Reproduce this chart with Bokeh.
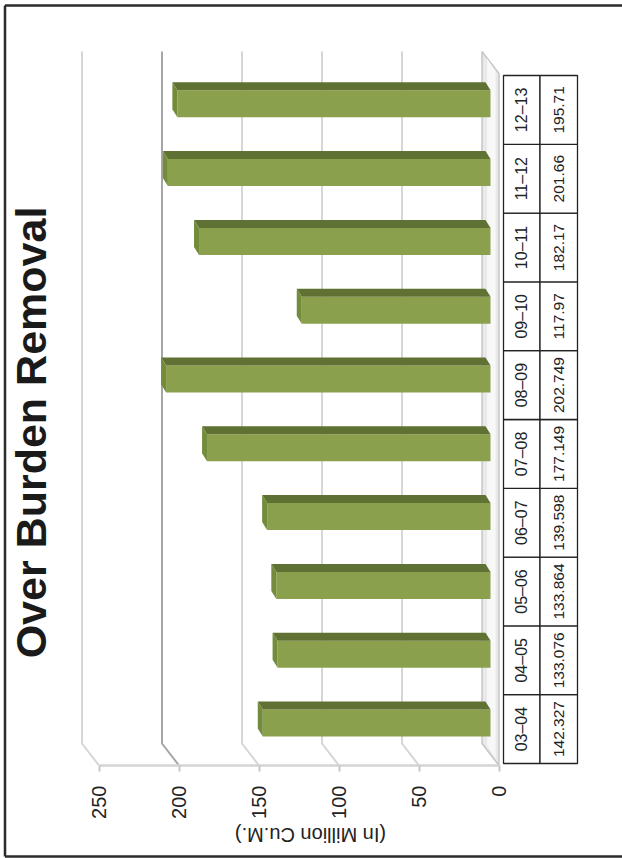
import math
from bokeh.plotting import figure
from bokeh.models import Range1d, LinearAxis, FixedTicker, Label
from bokeh.core.properties import value
from bokeh.embed import file_html
from bokeh.resources import INLINE

# ---- data ----
categories = ["03–04", "04–05", "05–06", "06–07", "07–08",
              "08–09", "09–10", "10–11", "11–12", "12–13"]
values = [142.327, 133.076, 133.864, 139.598, 177.149,
          202.749, 117.97, 182.17, 201.66, 195.71]
value_labels = ["142.327", "133.076", "133.864", "139.598", "177.149",
                "202.749", "117.97", "182.17", "201.66", "195.71"]
ticks = [0, 50, 100, 150, 200, 250]
title_text = "Over Burden Removal"
axis_title = "(In Million Cu.M.)"

# ---- geometry (styles / layout) ----
W, H = 622, 858
PX_PER_UNIT = 1.6
ZERO_PX = 490.0
ROW_PX = 68.8
ROW0_CENTER_PX = 728.6
DEPTH = 8.5 / PX_PER_UNIT
BAR_DX = 5.0 / PX_PER_UNIT
FACE_OFF = 6.1 / ROW_PX
FACE_H = 27.0 / ROW_PX
TOP_H = 8.0 / ROW_PX
TABLE_FONT = "Liberation Sans"

x_start = ZERO_PX / PX_PER_UNIT
x_end = x_start - W / PX_PER_UNIT
y_start = (ROW0_CENTER_PX - H) / ROW_PX
y_end = ROW0_CENTER_PX / ROW_PX


def ypx(py):
    return (ROW0_CENTER_PX - py) / ROW_PX


p = figure(width=W, height=H,
           x_range=Range1d(x_start, x_end), y_range=Range1d(y_start, y_end),
           output_backend="svg", toolbar_location=None, min_border=0,
           x_axis_type=None, y_axis_type=None)
p.outline_line_color = None
p.background_fill_color = "white"
p.border_fill_color = "white"
p.extra_x_ranges = {"front": Range1d(x_start + DEPTH, x_end + DEPTH),
                    "px": Range1d(0, W)}
p.extra_y_ranges = {"px": Range1d(H, 0)}

# back-wall gridlines with floor slant
g_xs, g_ys, g_col = [], [], []
for t in ticks[1:]:
    g_xs.append([t + DEPTH, t + DEPTH, t - DEPTH])
    g_ys.append([51, 743, 765])
    g_col.append("#a6a6a6" if t == 200 else "#d6d6d6")
p.multi_line(xs=g_xs, ys=g_ys, y_range_name="px", line_color=g_col, line_width=2)

# side wall (the floor of the original chart)
p.patch(x=[DEPTH, -DEPTH, -DEPTH, DEPTH], y=[51, 73, 765, 743], y_range_name="px",
        fill_color="#e9e9e9", line_color="#c6c6c6", line_width=1.5)
p.patch(x=[DEPTH * 0.4, -DEPTH * 0.6, -DEPTH * 0.6, DEPTH * 0.4],
        y=[58, 71, 758, 745], y_range_name="px",
        fill_color="#f8f8f8", line_color=None)

# bars
idx = list(range(len(values)))
face_y = [i + FACE_OFF for i in idx]
p.hbar(y=face_y, left=0, right=values, height=FACE_H,
       fill_color="#8ba04d", line_color=None)
top_xs, top_ys, side_xs, side_ys = [], [], [], []
for i, v in zip(idx, values):
    ft = i + FACE_OFF + FACE_H / 2
    fb = i + FACE_OFF - FACE_H / 2
    top_xs.append([0, v, v + BAR_DX, BAR_DX])
    top_ys.append([ft, ft, ft + TOP_H, ft + TOP_H])
    side_xs.append([v, v + BAR_DX, v + BAR_DX, v])
    side_ys.append([ft, ft + TOP_H, fb + TOP_H, fb])
p.patches(xs=top_xs, ys=top_ys, fill_color="#5f7133", line_color=None)
p.patches(xs=side_xs, ys=side_ys, fill_color="#738c3c", line_color=None)

# data table
n = len(categories)
p.quad(left=[503] * n, right=[539.5] * n,
       bottom=[i - 0.5 for i in idx], top=[i + 0.5 for i in idx],
       x_range_name="px", fill_color="white", line_color="#222222", line_width=1.3)
p.quad(left=[539.5] * n, right=[577] * n,
       bottom=[i - 0.5 for i in idx], top=[i + 0.5 for i in idx],
       x_range_name="px", fill_color="white", line_color="#222222", line_width=1.3)
p.text(x=[521] * n, y=idx, text=categories, angle=math.pi / 2, x_range_name="px",
       text_align="center", text_baseline="middle",
       text_font=value(TABLE_FONT), text_font_size="16px",
       text_color="#222222")
p.text(x=[558.5] * n, y=idx, text=value_labels, angle=math.pi / 2, x_range_name="px",
       text_align="center", text_baseline="middle",
       text_font=value(TABLE_FONT), text_font_size="15.5px",
       text_color="#222222")

# value axis (front edge of the floor)
ax = LinearAxis(x_range_name="front", fixed_location=ypx(765),
                ticker=FixedTicker(ticks=ticks), bounds=(0, 250))
ax.axis_line_color = "#d4d4d4"
ax.axis_line_width = 2.5
ax.major_tick_line_color = "#c8c8c8"
ax.major_tick_line_width = 2
ax.major_tick_out = 6
ax.major_tick_in = 0
ax.minor_tick_line_color = None
ax.major_label_orientation = math.pi / 2
ax.major_label_text_font = "Liberation Sans"
ax.major_label_text_font_size = "20px"
ax.major_label_text_color = "#222222"
ax.major_label_standoff = 14
p.add_layout(ax, "below")

# axis title (upside down, as in the reference)
p.add_layout(Label(x=310, y=834, x_range_name="px", y_range_name="px",
                   text=axis_title, angle=math.pi, text_align="center",
                   text_baseline="middle", text_font="Liberation Sans",
                   text_font_size="20px", text_color="#222222"))

# chart title
p.add_layout(Label(x=30, y=432, x_range_name="px", y_range_name="px",
                   text=title_text, angle=math.pi / 2, text_align="center",
                   text_baseline="middle", text_font="Liberation Sans",
                   text_font_style="bold", text_font_size="43px",
                   text_color="#1a1a1a"))

# outer frame
p.multi_line(xs=[[4.5, 4.5], [4.5, W], [4.5, W]], ys=[[5, 856], [5, 5], [856, 856]],
             x_range_name="px", y_range_name="px",
             line_color="#2b2b2b", line_width=2.5)

open("out.html", "w").write(file_html(p, INLINE))
